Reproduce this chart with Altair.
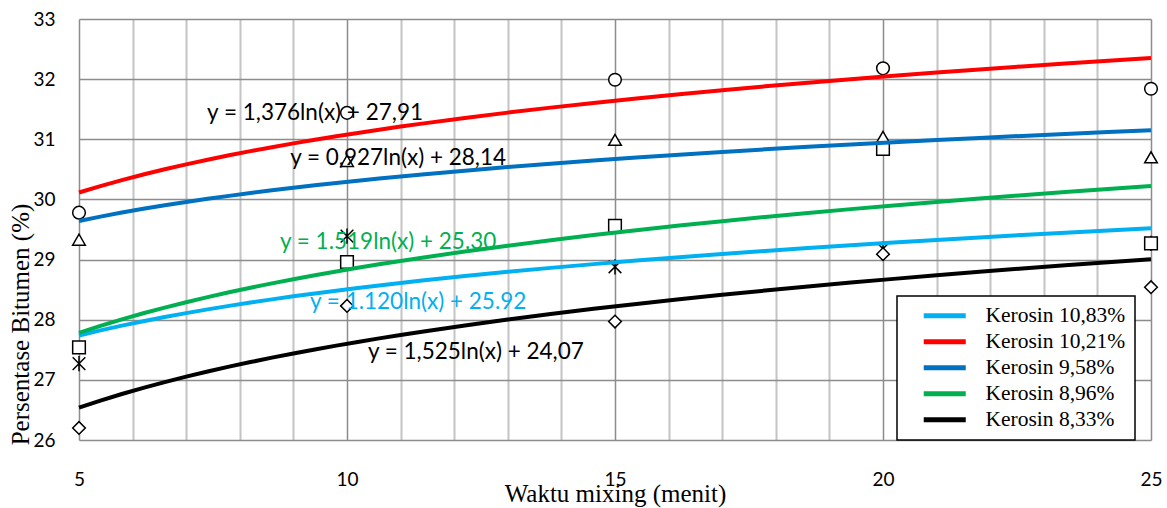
import altair as alt
import pandas as pd

# ---- data ----
waktu = [5, 10, 15, 20, 25]
series_names = ["Kerosin 10,83%", "Kerosin 10,21%", "Kerosin 9,58%", "Kerosin 8,96%", "Kerosin 8,33%"]
k1083 = [27.27, 29.39, 28.88, 29.18, 29.27]
k1021 = [29.78, 31.44, 31.99, 32.18, 31.84]
k958 = [29.33, 30.64, 30.99, 31.04, 30.70]
k896 = [27.54, 28.96, 29.56, 30.84, 29.27]
k833 = [26.20, 28.23, 27.97, 29.09, 28.54]
series_values = [k1083, k1021, k958, k896, k833]

line_colors = ["#00B0F0", "#FF0000", "#0070C0", "#00B050", "#000000"]
marker_shapes = ["M-1,-1L1,1M-1,1L1,-1M0,-1.2L0,1.2", "circle", "triangle-up", "square", "diamond"]

eq_text = ["y = 1.120ln(x) + 25.92", "y = 1,376ln(x) + 27,91", "y = 0,927ln(x) + 28,14",
           "y = 1.519ln(x) + 25.30", "y = 1,525ln(x) + 24,07"]
eq_x = [9.31, 7.39, 8.94, 8.75, 10.39]
eq_y = [28.29, 31.44, 30.69, 29.29, 27.46]
eq_colors = ["#00B0F0", "#000000", "#000000", "#00B050", "#000000"]

x_ticks = list(range(5, 26))

rows = []
for name, vals in zip(series_names, series_values):
    for xv, yv in zip(waktu, vals):
        rows.append({"series": name, "x": xv, "y": yv})
df = pd.DataFrame(rows)

xscale = alt.Scale(domain=[5, 25], nice=False, zero=False)
yscale = alt.Scale(domain=[26, 33], nice=False, zero=False)

x_axis = alt.Axis(
    values=x_ticks, format="d",
    labelExpr="datum.value % 5 === 0 ? datum.label : ''",
    labelOverlap=False, labelFlush=False,
    title="Waktu mixing  (menit)",
    titleFont="Liberation Serif", titleFontSize=25, titleFontWeight="normal", titleColor="#000",
    titleBaseline="middle", titleY=53,
    labelFont="Lato", labelFontSize=19, labelColor="#000", labelPadding=30,
    ticks=False, domain=False, grid=True,
    gridColor={"condition": {"test": "datum.value % 5 === 0", "value": "#8c8c8c"}, "value": "#c4c4c4"},
    gridWidth={"condition": {"test": "datum.value % 5 === 0", "value": 1.5}, "value": 2},
)
y_axis = alt.Axis(
    tickCount=35, format="d",
    labelExpr="abs(datum.value - round(datum.value)) < 0.001 ? datum.label : ''",
    labelOverlap=False, labelFlush=False,
    title="Persentase Bitumen (%)",
    titleFont="Liberation Serif", titleFontSize=25, titleFontWeight="normal", titleColor="#000",
    titleAngle=270, titleX=-59, titleY=305, titleBaseline="middle", titleAlign="center",
    labelFont="Lato", labelFontSize=19, labelColor="#000", labelPadding=24,
    ticks=False, domain=False, grid=True,
    gridColor={"condition": {"test": "abs(datum.value - round(datum.value)) < 0.001", "value": "#8c8c8c"}, "value": "#c4c4c4"},
    gridWidth={"condition": {"test": "abs(datum.value - round(datum.value)) < 0.001", "value": 1.5}, "value": 2},
)

X = lambda: alt.X("x:Q", scale=xscale, axis=x_axis)
Y = lambda: alt.Y("y:Q", scale=yscale, axis=y_axis)

base = alt.Chart(df)

point_layers = []
for name, shp in zip(series_names, marker_shapes):
    point_layers.append(
        base.transform_filter(alt.datum.series == name).mark_point(
            shape=shp, filled=True, fill="white", stroke="black", strokeWidth=1.5, size=160, opacity=1
        ).encode(x=X(), y=Y())
    )

lines = base.transform_regression(
    "x", "y", method="log", groupby=["series"], extent=[5, 25]
).mark_line(strokeWidth=4).encode(
    x=X(),
    y=Y(),
    color=alt.Color(
        "series:N",
        scale=alt.Scale(domain=series_names, range=line_colors),
        legend=alt.Legend(
            title=None, orient="none", legendX=818, legendY=277,
            fillColor="white", strokeColor="black",
            padding=9, symbolOffset=28, symbolType="M-3.5,0L3.5,0", symbolSize=144,
            symbolStrokeWidth=5, labelFont="Liberation Serif", labelFontSize=21.5,
            labelColor="#000", labelOffset=30, rowPadding=3, labelLimit=300,
            labelExpr="datum.label + '\u00a0\u00a0\u00a0\u00a0'",
        ),
    ),
)

texts = []
for t, xv, yv, c in zip(eq_text, eq_x, eq_y, eq_colors):
    texts.append(
        alt.Chart(pd.DataFrame({"x": [xv], "y": [yv], "t": [t]})).mark_text(
            align="left", baseline="middle", font="Lato", fontSize=22.5, color=c
        ).encode(x=X(), y=Y(), text="t:N")
    )

chart = alt.layer(*point_layers, lines, *texts).properties(
    width=1072, height=421,
    autosize=alt.AutoSizeParams(type="none"),
    padding={"left": 79, "top": 19, "right": 16, "bottom": 68},
    background="white",
).configure_view(stroke=None).configure_legend(strokeWidth=1.5)

chart.save("out.html", embed_options={"renderer": "svg", "actions": False})
